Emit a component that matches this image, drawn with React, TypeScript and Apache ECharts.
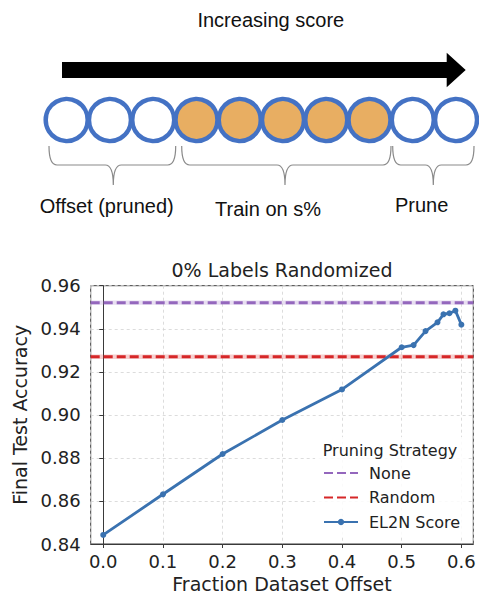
import React, { useEffect, useRef } from "react";
import * as echarts from "echarts";

// ---- Data ----
const offsets = [0, 0.1, 0.2, 0.3, 0.4, 0.5, 0.52, 0.54, 0.56, 0.57, 0.58, 0.59, 0.6];
const el2nAcc = [0.8442, 0.8631, 0.8818, 0.8976, 0.9118, 0.9314, 0.9324, 0.9389, 0.943, 0.9467, 0.9472, 0.9484, 0.9419];
const noneAcc = 0.9521;
const randomAcc = 0.927;
const bandHalf = 0.001;
const xRange = [-0.021, 0.62];
const yRange = [0.84, 0.96];
const yInterval = 0.02;
const seriesNames = ["None", "Random", "EL2N Score"];
const circleFilled = [false, false, false, true, true, true, true, true, false, false];
const braceLabels = ["Offset (pruned)", "Train on s%", "Prune"];

// ---- Diagram geometry (decoration) ----
const braces = [
  { x1: 49, x2: 175.7, tip: 113.3, label: 106.7, ly: 206 },
  { x1: 181.7, x2: 391, tip: 285, label: 268, ly: 209 },
  { x1: 392.7, x2: 474, tip: 433.3, label: 421.7, ly: 205 },
];
const braceTop = 146;
const braceMid = 165;
const braceTip = 185;

function bracePath(x1: number, x2: number, t: number) {
  const r = 8;
  return (
    `M${x1},${braceTop} Q${x1},${braceMid} ${x1 + r},${braceMid} ` +
    `L${t - r},${braceMid} Q${t},${braceMid} ${t},${braceTip} ` +
    `Q${t},${braceMid} ${t + r},${braceMid} L${x2 - r},${braceMid} ` +
    `Q${x2},${braceMid} ${x2},${braceTop}`
  );
}
const braceD = braces.map((b) => bracePath(b.x1, b.x2, b.tip)).join(" ");
echarts.graphic.registerShape("braces", echarts.graphic.extendPath(braceD, {}));

const purple = "#9467bd";
const red = "#d62728";
const blue = "#3a72b0";
const dark = "#222";
const sans = "Liberation Sans";
const dv = "DejaVu Sans";

export default function App() {
  const ref = useRef<HTMLDivElement>(null);
  useEffect(() => {
    document.body.style.margin = "0";
    const chart = echarts.init(ref.current!, null, { renderer: "svg" });

    const graphics: any[] = [];
    graphics.push({
      type: "text",
      style: { text: "Increasing score", x: 270.8, y: 20, align: "center", verticalAlign: "middle", fontSize: 20, fontFamily: sans, fill: "#111" },
    });
    graphics.push({
      type: "polygon",
      shape: { points: [[62, 62], [446.7, 62], [446.7, 52.7], [465.7, 70], [446.7, 87.3], [446.7, 78], [62, 78]] },
      style: { fill: "#000" },
    });
    circleFilled.forEach((f, i) => {
      graphics.push({
        type: "circle",
        shape: { cx: 66.7 + i * 43.26, cy: 120, r: 21 },
        style: { fill: f ? "#e8ae62" : "#fff", stroke: "#4472c4", lineWidth: 4.5 },
      });
    });
    graphics.push({ type: "braces", x: 0, y: 0, style: { fill: "none", stroke: "#8a8a8a", lineWidth: 1.2 } });
    braces.forEach((b, i) => {
      graphics.push({
        type: "text",
        style: { text: braceLabels[i], x: b.label, y: b.ly, align: "center", verticalAlign: "middle", fontSize: 20, fontFamily: sans, fill: "#111" },
      });
    });
    graphics.push({
      type: "text",
      style: { text: "0% Labels Randomized", x: 282, y: 270, align: "center", verticalAlign: "middle", fontSize: 19, fontFamily: dv, fill: dark },
    });
    graphics.push({
      type: "text",
      z: 100,
      style: { text: "Pruning Strategy", x: 390, y: 450, align: "center", verticalAlign: "middle", fontSize: 16, fontFamily: dv, fill: dark },
    });

    const lineSeries = (name: string, val: number, color: string) => ({
      name,
      type: "line",
      data: [[xRange[0], val], [xRange[1], val]],
      symbol: "none",
      color,
      lineStyle: { color, width: 3, type: [9, 4] },
      z: 3,
      markArea: {
        silent: true,
        itemStyle: { color, opacity: 0.22 },
        data: [[{ yAxis: val - bandHalf }, { yAxis: val + bandHalf }]],
      },
    });

    chart.setOption({
      animation: false,
      backgroundColor: "#fff",
      graphic: graphics,
      grid: { left: 90.7, right: 5.7, top: 285.7, bottom: 52, show: true, borderColor: "#3a3a3a", borderWidth: 1 },
      xAxis: {
        type: "value",
        min: xRange[0],
        max: xRange[1],
        splitNumber: 6,
        name: "Fraction Dataset Offset",
        nameLocation: "middle",
        nameGap: 30,
        nameTextStyle: { fontSize: 19, fontFamily: dv, color: dark },
        axisLine: { show: true, lineStyle: { color: "#3a3a3a" } },
        axisTick: { show: true, length: 4, lineStyle: { color: "#3a3a3a" } },
        axisLabel: {
          fontSize: 18, fontFamily: dv, color: dark, margin: 8,
          showMinLabel: false, showMaxLabel: false,
          formatter: (v: number) => v.toFixed(1),
        },
        splitLine: { show: true, lineStyle: { color: "#d3d3d3", type: [3, 3], width: 0.8 } },
      },
      yAxis: {
        type: "value",
        min: yRange[0],
        max: yRange[1],
        interval: yInterval,
        name: "Final Test Accuracy",
        nameLocation: "middle",
        nameGap: 60,
        nameTextStyle: { fontSize: 19, fontFamily: dv, color: dark },
        axisLine: { show: true, lineStyle: { color: "#3a3a3a" } },
        axisTick: { show: true, length: 4, lineStyle: { color: "#3a3a3a" } },
        axisLabel: { fontSize: 18, fontFamily: dv, color: dark, margin: 10, formatter: (v: number) => v.toFixed(2) },
        splitLine: { show: true, lineStyle: { color: "#d3d3d3", type: [3, 3], width: 0.8 } },
      },
      legend: {
        orient: "vertical",
        left: 315,
        top: 437,
        padding: [28, 8, 5, 8],
        backgroundColor: "rgba(255,255,255,0.85)",
        itemWidth: 34,
        itemHeight: 8,
        itemGap: 8.5,
        data: [
          { name: seriesNames[0], itemStyle: { opacity: 0 } },
          { name: seriesNames[1], itemStyle: { opacity: 0 } },
          { name: seriesNames[2] },
        ],
        textStyle: { fontSize: 16, fontFamily: dv, color: dark, lineHeight: 15, padding: [0, 0, 0, 6] },
      },
      series: [
        lineSeries(seriesNames[0], noneAcc, purple),
        lineSeries(seriesNames[1], randomAcc, red),
        {
          name: seriesNames[2],
          type: "line",
          data: offsets.map((x, i) => [x, el2nAcc[i]]),
          symbol: "circle",
          symbolSize: 6,
          showAllSymbol: true,
          color: blue,
          lineStyle: { color: blue, width: 2.8 },
          z: 4,
        },
      ],
    });
    return () => chart.dispose();
  }, []);
  return <div ref={ref} style={{ width: 479, height: 596 }} />;
}
